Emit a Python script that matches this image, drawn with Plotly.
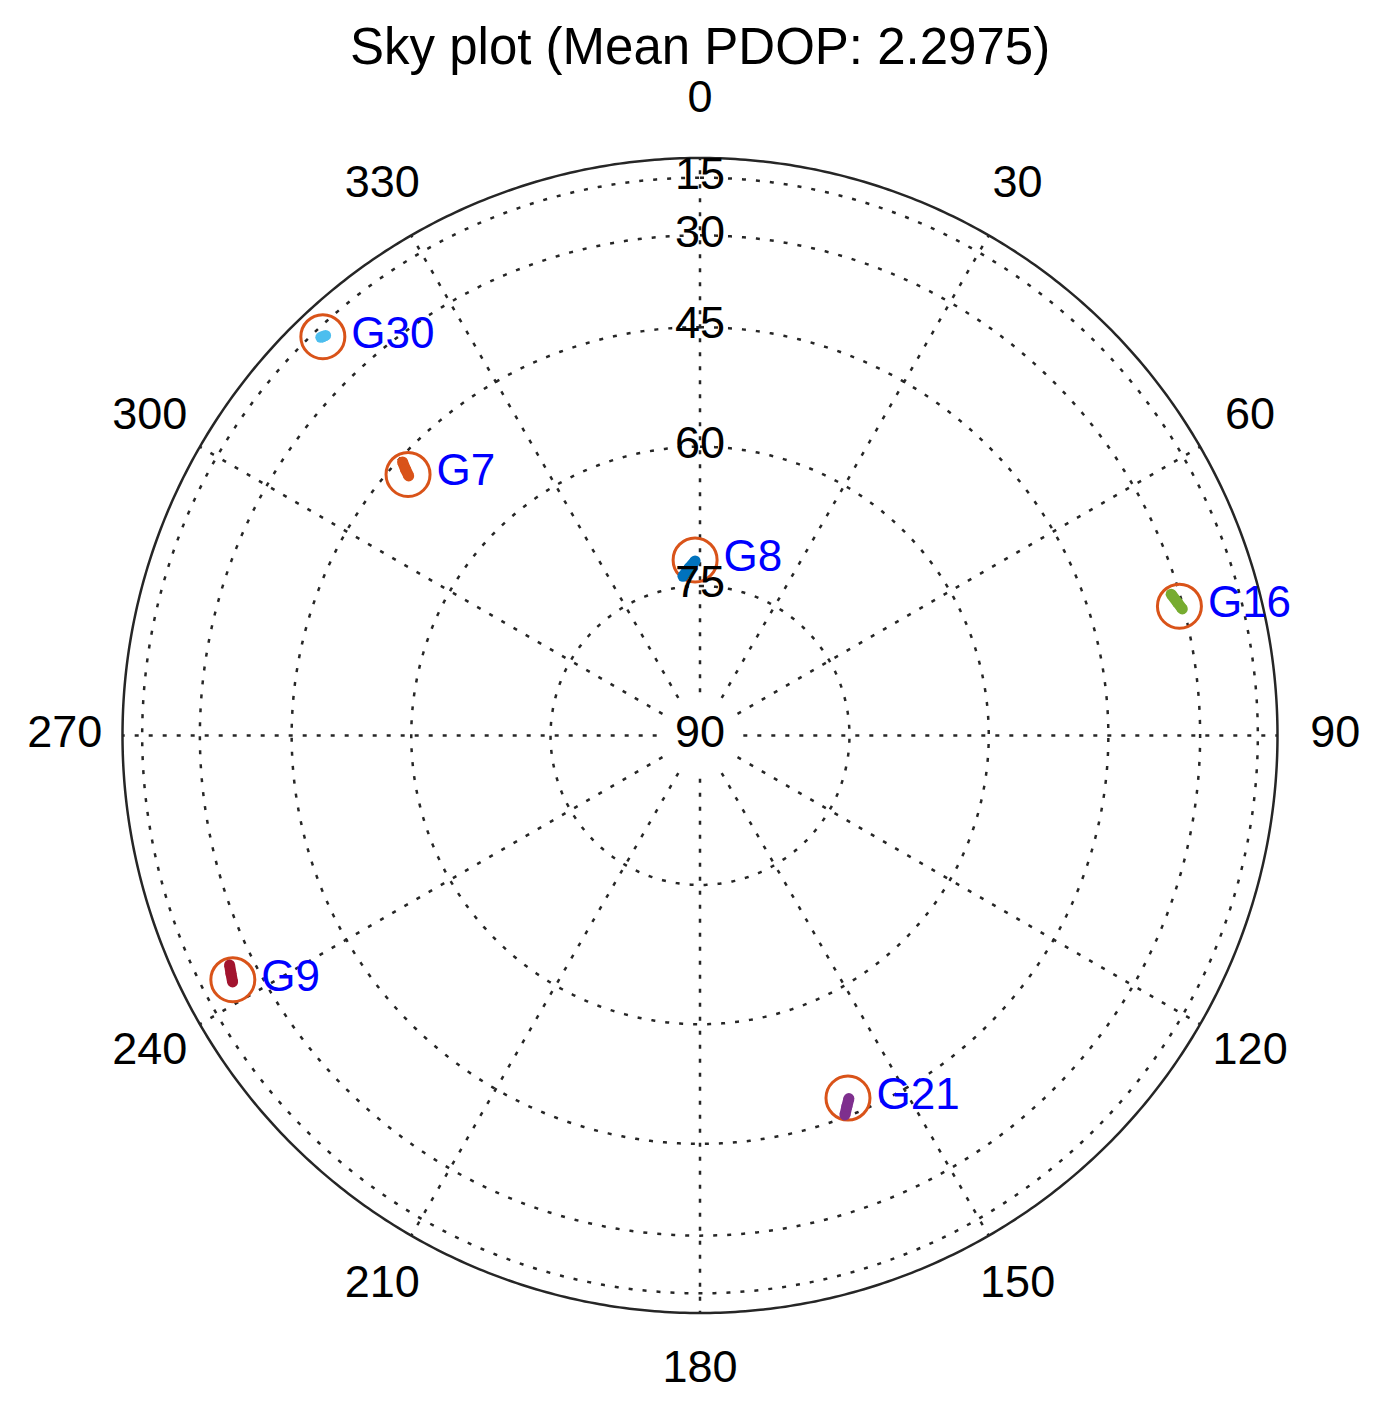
import numpy as np
import plotly.graph_objects as go

# ---------------- data ----------------
sat_names = ["G8", "G7", "G16", "G9", "G21", "G30"]
sat_colors = ["#0072BD", "#D95319", "#77AC30", "#A2142F", "#7E2F8E", "#4DBEEE"]
# trail (azimuth deg, elevation deg), oldest -> newest
trail_az = [
    [353.9, 356.3, 358.4],
    [312.6, 312.1, 311.7],
    [73.3, 74.4, 75.3],
    [244.0, 243.1, 242.2],
    [159.1, 158.4, 157.7],
    [316.4, 316.6, 316.9],
]
trail_el = [
    [73.9, 73.1, 72.4],
    [45.6, 46.6, 47.5],
    [31.6, 30.9, 30.3],
    [25.0, 24.4, 23.8],
    [45.3, 46.3, 47.2],
    [17.8, 18.1, 18.4],
]
# current position (circle marker)
now_az = [358.4, 311.8, 74.9, 242.4, 157.8, 316.6]
now_el = [72.3, 47.3, 30.7, 24.1, 47.3, 18.1]

title_text = "Sky plot (Mean PDOP: 2.2975)"
elev_rings = [15, 30, 45, 60, 75]
elev_labels = [15, 30, 45, 60, 75, 90]
az_labels = [0, 30, 60, 90, 120, 150, 180, 210, 240, 270, 300, 330]


def el2r(el):
    return np.cos(np.radians(np.asarray(el, dtype=float)))


FONT = "Liberation Sans, Arial, Helvetica, sans-serif"
GRID = "#262626"
DOT = "4px,10px"
RMAX = 1.1  # radial range includes room for azimuth labels

fig = go.Figure()

# dotted elevation rings
theta_full = np.linspace(0, 360, 721)
for el in elev_rings:
    fig.add_trace(go.Scatterpolar(
        r=np.full_like(theta_full, el2r(el)), theta=theta_full, mode="lines",
        line=dict(color=GRID, width=2.5, dash=DOT), hoverinfo="skip", showlegend=False))

# dotted azimuth spokes
for az in az_labels:
    fig.add_trace(go.Scatterpolar(
        r=[0.075, 1.0], theta=[az, az], mode="lines",
        line=dict(color=GRID, width=2.5, dash=DOT), hoverinfo="skip", showlegend=False))

# outer horizon circle (elevation 0)
fig.add_trace(go.Scatterpolar(
    r=np.full_like(theta_full, el2r(0)), theta=theta_full, mode="lines",
    line=dict(color=GRID, width=2.5), hoverinfo="skip", showlegend=False))

# current-position circles
fig.add_trace(go.Scatterpolar(
    r=el2r(now_el), theta=now_az, mode="markers",
    marker=dict(size=44, color="rgba(0,0,0,0)", line=dict(color="#D95319", width=3)),
    hoverinfo="skip", showlegend=False))

# trails
for name, col, az, el in zip(sat_names, sat_colors, trail_az, trail_el):
    fig.add_trace(go.Scatterpolar(
        r=el2r(el), theta=az, mode="lines+markers",
        line=dict(color=col, width=11), marker=dict(size=11, color=col),
        name=name, hoverinfo="skip", showlegend=False))

# satellite labels
fig.add_trace(go.Scatterpolar(
    r=el2r(now_el), theta=now_az, mode="markers+text", text=sat_names,
    textposition="middle right",
    marker=dict(size=44, color="rgba(0,0,0,0)"),
    textfont=dict(family=FONT, size=44, color="#0000FF"),
    hoverinfo="skip", showlegend=False))

# elevation labels along 0 deg
fig.add_trace(go.Scatterpolar(
    r=el2r(elev_labels), theta=[0] * len(elev_labels), mode="text",
    text=[str(v) for v in elev_labels], textposition="middle center",
    textfont=dict(family=FONT, size=45, color="#000000"),
    hoverinfo="skip", showlegend=False))

# azimuth labels outside the horizon
fig.add_trace(go.Scatterpolar(
    r=[1.1] * len(az_labels), theta=az_labels, mode="text",
    text=[str(v) for v in az_labels], textposition="middle center",
    textfont=dict(family=FONT, size=45, color="#000000"),
    cliponaxis=False, hoverinfo="skip", showlegend=False))

W, H = 1375, 1405
cx, cy, R = 692, 727.5, 577.5 * RMAX  # page body has an 8px margin
fig.update_layout(
    width=W, height=H,
    margin=dict(l=0, r=0, t=0, b=0),
    paper_bgcolor="white", plot_bgcolor="white",
    showlegend=False,
    polar=dict(
        domain=dict(x=[(cx - R) / W, (cx + R) / W], y=[(H - cy - R) / H, (H - cy + R) / H]),
        bgcolor="rgba(0,0,0,0)",
        radialaxis=dict(range=[0, RMAX], visible=False, showgrid=False),
        angularaxis=dict(rotation=90, direction="clockwise", showgrid=False,
                         showticklabels=False, ticks="", showline=False),
    ),
    annotations=[dict(text=title_text, x=cx / W, y=1 - 39 / H, xref="paper", yref="paper",
                      xanchor="center", yanchor="middle", showarrow=False,
                      font=dict(family=FONT, size=51, color="#000000"))],
)

fig.write_html("out.html")
